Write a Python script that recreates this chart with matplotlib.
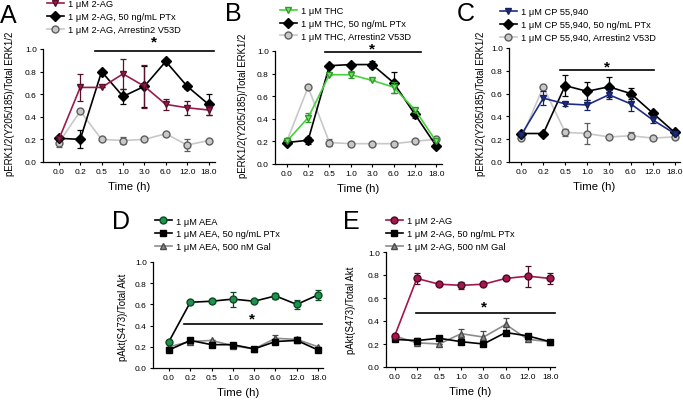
import numpy as np
import matplotlib
matplotlib.use("Agg")
import matplotlib.pyplot as plt

plt.rcParams['font.family'] = ['Liberation Sans', 'DejaVu Sans']

times = ['0.0', '0.2', '0.5', '1.0', '3.0', '6.0', '12.0', '18.0']

# Panel A - pERK, 2-AG
a_ag = [0.20, 0.66, 0.66, 0.78, 0.67, 0.51, 0.48, 0.46]
a_ag_err = [0.0, 0.12, 0.0, 0.13, 0.19, 0.05, 0.06, 0.04]
a_ptx = [0.21, 0.20, 0.80, 0.58, 0.67, 0.89, 0.67, 0.51]
a_ptx_err = [0.0, 0.08, 0.0, 0.07, 0.18, 0.0, 0.02, 0.09]
a_arr = [0.17, 0.45, 0.20, 0.19, 0.20, 0.25, 0.15, 0.19]
a_arr_err = [0.04, 0.0, 0.0, 0.03, 0.0, 0.0, 0.05, 0.0]

# Panel B - pERK, THC
b_thc = [0.20, 0.41, 0.79, 0.79, 0.74, 0.68, 0.48, 0.20]
b_thc_err = [0.0, 0.04, 0.0, 0.03, 0.0, 0.05, 0.02, 0.0]
b_ptx = [0.19, 0.21, 0.87, 0.88, 0.88, 0.72, 0.44, 0.16]
b_ptx_err = [0.0, 0.03, 0.0, 0.0, 0.03, 0.09, 0.03, 0.02]
b_arr = [0.20, 0.68, 0.19, 0.18, 0.18, 0.18, 0.20, 0.22]
b_arr_err = [0.0, 0.0, 0.03, 0.0, 0.0, 0.0, 0.0, 0.0]

# Panel C - pERK, CP 55,940
c_cp = [0.24, 0.56, 0.51, 0.50, 0.59, 0.51, 0.37, 0.25]
c_cp_err = [0.0, 0.06, 0.02, 0.04, 0.04, 0.06, 0.03, 0.0]
c_ptx = [0.25, 0.25, 0.67, 0.62, 0.66, 0.60, 0.43, 0.26]
c_ptx_err = [0.0, 0.0, 0.09, 0.08, 0.09, 0.05, 0.01, 0.0]
c_arr = [0.21, 0.66, 0.26, 0.25, 0.22, 0.23, 0.21, 0.22]
c_arr_err = [0.0, 0.0, 0.03, 0.09, 0.0, 0.03, 0.02, 0.0]

# Panel D - pAkt, AEA
d_aea = [0.25, 0.62, 0.63, 0.65, 0.63, 0.68, 0.60, 0.69]
d_aea_err = [0.0, 0.0, 0.0, 0.07, 0.0, 0.03, 0.04, 0.05]
d_ptx = [0.17, 0.26, 0.22, 0.22, 0.18, 0.25, 0.26, 0.17]
d_ptx_err = [0.0, 0.02, 0.02, 0.02, 0.02, 0.02, 0.02, 0.02]
d_gal = [0.20, 0.25, 0.26, 0.21, 0.18, 0.28, 0.27, 0.20]
d_gal_err = [0.0, 0.02, 0.0, 0.0, 0.0, 0.03, 0.02, 0.0]

# Panel E - pAkt, 2-AG
e_ag = [0.27, 0.77, 0.72, 0.71, 0.72, 0.77, 0.79, 0.77]
e_ag_err = [0.0, 0.05, 0.0, 0.03, 0.0, 0.0, 0.09, 0.05]
e_ptx = [0.24, 0.23, 0.25, 0.22, 0.20, 0.30, 0.27, 0.22]
e_ptx_err = [0.0, 0.02, 0.0, 0.02, 0.0, 0.02, 0.0, 0.0]
e_gal = [0.27, 0.21, 0.20, 0.29, 0.26, 0.37, 0.24, 0.22]
e_gal_err = [0.0, 0.0, 0.0, 0.04, 0.05, 0.06, 0.0, 0.0]

x = np.arange(len(times))

W, H = 683, 402
fig = plt.figure(figsize=(W / 100, H / 100), dpi=100)


def px(left, top, right, bottom):
    # pixel box -> figure fraction rect
    return [left / W, 1 - bottom / H, (right - left) / W, (bottom - top) / H]


def series(ax, y, err, marker, mfc, mec, lc, z):
    c = ax.errorbar(x, y, yerr=err, marker=marker, ms=5.0, mfc=mfc, mec=mec,
                    color=lc, lw=1.2, ecolor=mec, elinewidth=0.9, capsize=2.5,
                    capthick=0.9, zorder=z, clip_on=False)
    return c.lines[0]


def panel(box, xlim, letter, ylabel, ylab_pos, lines, labels, leg_xy, letter_xy, sig):
    ax = fig.add_axes(px(*box))
    handles = []
    for i, s in enumerate(lines):
        handles.append(series(ax, *s, z=5 - i))
    ax.set_xlim(*xlim)
    ax.set_ylim(0, 1.0)
    yt = np.arange(0, 1.01, 0.2)
    ax.set_yticks(yt)
    ax.set_yticklabels(['%.1f' % v for v in yt])
    ax.set_xticks(x)
    ax.set_xticklabels(times)
    ax.tick_params(labelsize=6, length=2.5, width=0.8, pad=2)
    for sp in ['top', 'right']:
        ax.spines[sp].set_visible(False)
    ax.spines['left'].set_linewidth(0.9)
    ax.spines['bottom'].set_linewidth(0.9)
    ax.set_xlabel('Time (h)', fontsize=8.2, labelpad=4)
    ax.set_ylabel(ylabel, fontsize=6.9)
    ax.yaxis.set_label_coords(*ylab_pos)
    ax.legend(handles, labels, loc='center left',
              bbox_to_anchor=(leg_xy[0] / W, 1 - leg_xy[1] / H),
              bbox_transform=fig.transFigure, frameon=False, fontsize=6.7,
              handlelength=1.8, handletextpad=0.45, labelspacing=0.42,
              borderpad=0, borderaxespad=0)
    x0, x1, ysig, xstar, ystar = sig
    ax.plot([x0, x1], [ysig, ysig], color='black', lw=1.2, clip_on=False)
    ax.text(xstar, ystar, '*', fontsize=11, ha='center', va='center',
            fontweight='bold')
    fig.text(letter_xy[0] / W, 1 - letter_xy[1] / H, letter, fontsize=18,
             ha='left', va='center')
    return ax


erk = 'pERK1/2(Y205/185)/Total ERK1/2'
akt = 'pAkt(S473)/Total Akt'

maroon = '#9b1b4c'
gray_fill = '#c8c8c8'

panel((43, 50, 215, 163), (-0.74, 7.3), 'A', erk, (-0.163, 0.52),
      [(a_ag, a_ag_err, 'v', maroon, '#5a0f2c', maroon),
       (a_ptx, a_ptx_err, 'D', 'black', 'black', 'black'),
       (a_arr, a_arr_err, 'o', gray_fill, '#5e5e5e', gray_fill)],
      ['1 \u03bcM 2-AG', '1 \u03bcM 2-AG, 50 ng/mL PTx',
       '1 \u03bcM 2-AG, Arrestin2 V53D'],
      (47, 17.5), (0, 16),
      (1.7, 7.25, 0.985, 4.44, 1.065))

panel((275, 52, 442, 165), (-0.55, 7.27), 'B', erk, (-0.16, 0.52),
      [(b_thc, b_thc_err, 'v', '#7be36a', '#2e9a2a', '#46d23a'),
       (b_ptx, b_ptx_err, 'D', 'black', 'black', 'black'),
       (b_arr, b_arr_err, 'o', gray_fill, '#5e5e5e', gray_fill)],
      ['1 \u03bcM THC', '1 \u03bcM THC, 50 ng/mL PTx',
       '1 \u03bcM THC, Arrestin2 V53D'],
      (280, 24.3), (225, 14),
      (1.8, 6.27, 0.99, 3.99, 1.02))

panel((509, 49, 680, 163), (-0.57, 7.25), 'C', erk, (-0.135, 0.52),
      [(c_cp, c_cp_err, 'v', '#1f2c85', '#15205e', '#1f2c85'),
       (c_ptx, c_ptx_err, 'D', 'black', 'black', 'black'),
       (c_arr, c_arr_err, 'o', gray_fill, '#5e5e5e', gray_fill)],
      ['1 \u03bcM CP 55,940', '1 \u03bcM CP 55,940, 50 ng/mL PTx',
       '1 \u03bcM CP 55,940, Arrestin2 V53D'],
      (500, 25.7), (457, 14),
      (1.77, 6.08, 0.81, 3.92, 0.84))

panel((153, 263, 323, 369), (-0.75, 7.23), 'D', akt, (-0.147, 0.49),
      [(d_aea, d_aea_err, 'o', '#21924e', '#0d4a24', 'black'),
       (d_ptx, d_ptx_err, 's', 'black', 'black', 'black'),
       (d_gal, d_gal_err, '^', '#8c8c8c', '#4a4a4a', '#8c8c8c')],
      ['1 \u03bcM AEA', '1 \u03bcM AEA, 50 ng/mL PTx',
       '1 \u03bcM AEA, 500 nM Gal'],
      (155, 235), (112, 222),
      (0.69, 7.2, 0.416, 3.9, 0.465))

panel((386, 253, 555, 368), (-0.39, 7.22), 'E', akt, (-0.178, 0.5),
      [(e_ag, e_ag_err, 'o', '#a3174f', '#4f0a24', '#a3174f'),
       (e_ptx, e_ptx_err, 's', 'black', 'black', 'black'),
       (e_gal, e_gal_err, '^', '#8c8c8c', '#4a4a4a', '#8c8c8c')],
      ['1 \u03bcM 2-AG', '1 \u03bcM 2-AG, 50 ng/mL PTx',
       '1 \u03bcM 2-AG, 500 nM Gal'],
      (386, 234.5), (343, 222),
      (0.96, 7.2, 0.47, 4.0, 0.525))

fig.savefig('out.png', dpi=100)
